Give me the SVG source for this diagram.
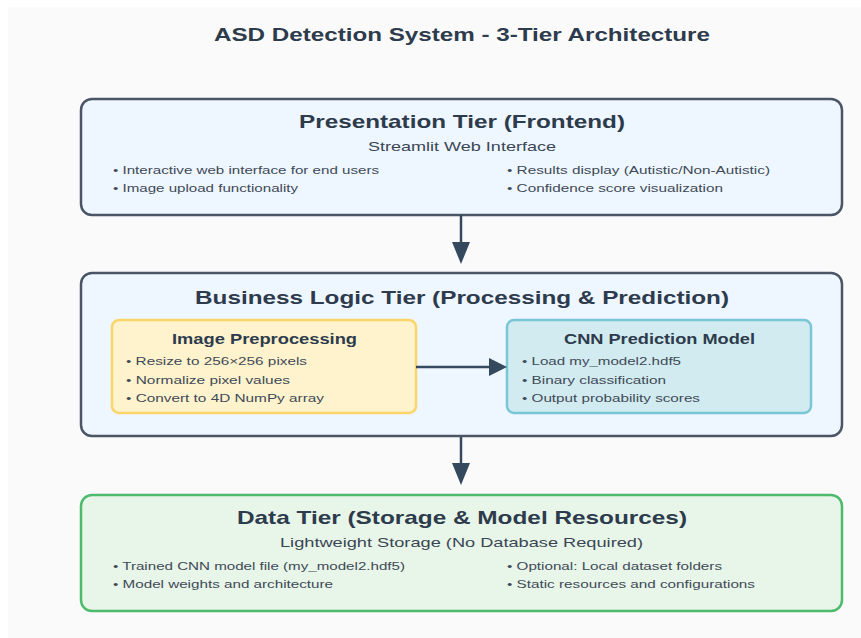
<svg xmlns="http://www.w3.org/2000/svg" width="861" height="638" viewBox="0 0 861 638">
<defs>
<style>
text{font-family:"Liberation Sans",Arial,sans-serif;fill:#2d3b4c}
.h1{font-size:19px;font-weight:bold}
.h2{font-size:19px;font-weight:bold}
.h3{font-size:14px;font-weight:bold}
.sub{font-size:13.5px;fill:#3a4654}
.b{font-size:11.5px;fill:#3f4a57}
.tier{fill:#eef6ff;stroke:#4a5566;stroke-width:2.5}
.data{fill:#e8f5e9;stroke:#4cbb6c;stroke-width:2.5}
.pre{fill:#fff3cd;stroke:#fad56a;stroke-width:2.5}
.cnn{fill:#d1ebf0;stroke:#79c7d6;stroke-width:2.5}
.conn line{stroke:#34495e;stroke-width:2.5}
.conn polygon{fill:#34495e}
</style>
</defs>
<rect width="861" height="638" fill="#ffffff"/>
<rect x="8" y="7" width="853" height="631" fill="#fafafa"/>
<text class="h1" x="214" y="41" textLength="496" lengthAdjust="spacingAndGlyphs">ASD Detection System - 3-Tier Architecture</text>

<g id="presentation">
<rect class="tier" x="81" y="99" width="761" height="116" rx="11"/>
<text class="h2" x="299" y="128" textLength="326" lengthAdjust="spacingAndGlyphs">Presentation Tier (Frontend)</text>
<text class="sub" x="368" y="151" textLength="188" lengthAdjust="spacingAndGlyphs">Streamlit Web Interface</text>
<text class="b" x="113" y="174" textLength="266" lengthAdjust="spacingAndGlyphs">• Interactive web interface for end users</text>
<text class="b" x="113" y="192" textLength="185" lengthAdjust="spacingAndGlyphs">• Image upload functionality</text>
<text class="b" x="507" y="174" textLength="263" lengthAdjust="spacingAndGlyphs">• Results display (Autistic/Non-Autistic)</text>
<text class="b" x="507" y="192" textLength="216" lengthAdjust="spacingAndGlyphs">• Confidence score visualization</text>
</g>

<g id="business">
<rect class="tier" x="81" y="273" width="761" height="163" rx="11"/>
<text class="h2" x="195" y="304" textLength="534" lengthAdjust="spacingAndGlyphs">Business Logic Tier (Processing &amp; Prediction)</text>
</g>

<g id="preprocessing">
<rect class="pre" x="112" y="320" width="304" height="93" rx="7"/>
<text class="h3" x="172" y="344" textLength="185" lengthAdjust="spacingAndGlyphs">Image Preprocessing</text>
<text class="b" x="126" y="365" textLength="181" lengthAdjust="spacingAndGlyphs">• Resize to 256×256 pixels</text>
<text class="b" x="126" y="384" textLength="164" lengthAdjust="spacingAndGlyphs">• Normalize pixel values</text>
<text class="b" x="126" y="402" textLength="198" lengthAdjust="spacingAndGlyphs">• Convert to 4D NumPy array</text>
</g>

<g id="cnn">
<rect class="cnn" x="507" y="320" width="304" height="93" rx="7"/>
<text class="h3" x="564" y="344" textLength="191" lengthAdjust="spacingAndGlyphs">CNN Prediction Model</text>
<text class="b" x="522" y="365" textLength="159" lengthAdjust="spacingAndGlyphs">• Load my_model2.hdf5</text>
<text class="b" x="522" y="384" textLength="144" lengthAdjust="spacingAndGlyphs">• Binary classification</text>
<text class="b" x="522" y="402" textLength="178" lengthAdjust="spacingAndGlyphs">• Output probability scores</text>
</g>

<g id="data">
<rect class="data" x="81" y="495" width="761" height="116" rx="11"/>
<text class="h2" x="237" y="524" textLength="450" lengthAdjust="spacingAndGlyphs">Data Tier (Storage &amp; Model Resources)</text>
<text class="sub" x="280" y="547" textLength="363" lengthAdjust="spacingAndGlyphs">Lightweight Storage (No Database Required)</text>
<text class="b" x="113" y="570" textLength="292" lengthAdjust="spacingAndGlyphs">• Trained CNN model file (my_model2.hdf5)</text>
<text class="b" x="113" y="588" textLength="220" lengthAdjust="spacingAndGlyphs">• Model weights and architecture</text>
<text class="b" x="507" y="570" textLength="215" lengthAdjust="spacingAndGlyphs">• Optional: Local dataset folders</text>
<text class="b" x="507" y="588" textLength="248" lengthAdjust="spacingAndGlyphs">• Static resources and configurations</text>
</g>

<g id="connectors" class="conn">
<line x1="461" y1="215" x2="461" y2="243"/>
<polygon points="452,242 470,242 461,264"/>
<line x1="461" y1="437" x2="461" y2="464"/>
<polygon points="452,463 470,463 461,485"/>
<line x1="416" y1="367" x2="490" y2="367"/>
<polygon points="489,358 489,376 507,367"/>
</g>
</svg>
